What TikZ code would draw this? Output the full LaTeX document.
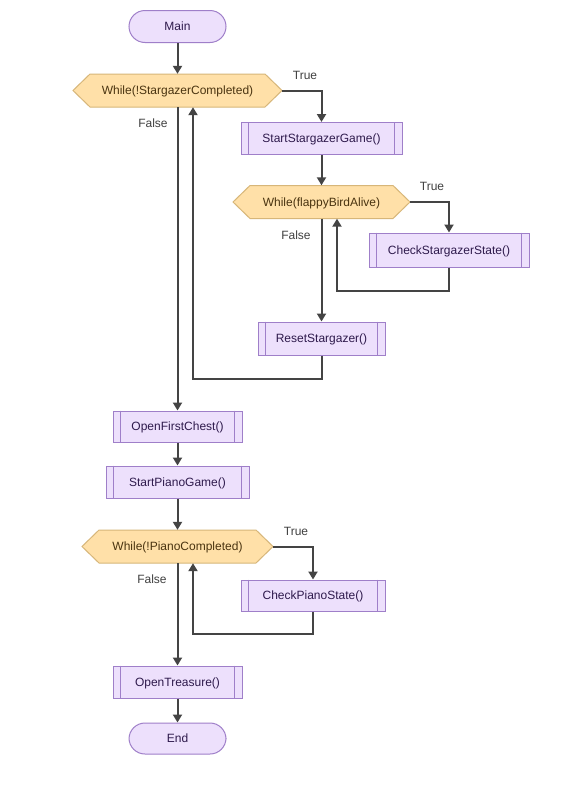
\documentclass[tikz,border=0pt]{standalone}
\usepackage{fontspec}
\setmainfont{Liberation Sans}
\usetikzlibrary{arrows.meta,calc}
\definecolor{boxfill}{HTML}{EDE0FC}
\definecolor{boxline}{HTML}{9F7FC9}
\definecolor{hexfill}{HTML}{FFE0A8}
\definecolor{hexline}{HTML}{D7B679}
\definecolor{boxtext}{HTML}{2E1A4C}
\definecolor{hextext}{HTML}{4A3410}
\definecolor{wire}{HTML}{444444}
\tikzset{
  every node/.style={font=\fontsize{12}{14}\selectfont},
  txt/.style={text height=8.6pt, text depth=0pt},
  term/.style={txt, rectangle, rounded corners=16pt, draw=boxline, fill=boxfill, line width=1pt, text=boxtext, minimum width=97pt, minimum height=32pt, inner sep=0pt},
  sub/.style={txt, rectangle, draw=boxline, fill=boxfill, line width=1pt, text=boxtext, minimum height=32pt, inner sep=0pt},
  subline/.style={draw=boxline, line width=1pt},
  hexbox/.style={txt, rectangle, draw=none, text=hextext, minimum height=33pt, inner sep=0pt},
  hexshape/.style={draw=hexline, fill=hexfill, line width=1pt},
  lbl/.style={txt, text=black!75, inner sep=0pt},
  flow/.style={draw=wire, line width=2pt, -{Triangle[width=9pt,length=8pt]}},
}
\newcommand{\hexat}[4]{% name, x, y, width
  \path[hexshape] ($(#2,#3)+(-#4/2,0)$) -- ++(17,-16.5) -- ($(#2,#3)+(#4/2-17,-16.5)$) -- ++(17,16.5) -- ++(-17,16.5) -- ($(#2,#3)+(-#4/2+17,16.5)$) -- cycle;
}
\begin{document}
\begin{tikzpicture}[x=1pt,y=-1pt]
\useasboundingbox (0,0) rectangle (566,806);
\fill[white] (0,0) rectangle (566,806);

% hexagon backgrounds
\hexat{w1}{177.5}{90.5}{209}
\hexat{w2}{321.5}{202}{177}
\hexat{w3}{177.5}{546.5}{191}

\node[term] (main) at (177.5,26.5) {Main};
\node[hexbox, minimum width=209pt] (w1) at (177.5,90.5) {While(!StargazerCompleted)};
\node[sub, minimum width=161pt] (ssg) at (321.5,138.5) {StartStargazerGame()};
\node[hexbox, minimum width=177pt] (w2) at (321.5,202) {While(flappyBirdAlive)};
\node[sub, minimum width=160pt, minimum height=34pt] (csg) at (449,250) {CheckStargazerState()};
\node[sub, minimum width=127pt, minimum height=33pt] (rs) at (321.5,338.5) {ResetStargazer()};
\node[sub, minimum width=129pt, minimum height=31pt] (ofc) at (177.5,426.5) {OpenFirstChest()};
\node[sub, minimum width=143pt] (spg) at (177.5,482) {StartPianoGame()};
\node[hexbox, minimum width=191pt] (w3) at (177.5,546.5) {While(!PianoCompleted)};
\node[sub, minimum width=144pt, minimum height=31pt] (cps) at (313,595.5) {CheckPianoState()};
\node[sub, minimum width=129pt] (ot) at (177.5,682) {OpenTreasure()};
\node[term, minimum height=31pt] (end) at (177.5,738.5) {End};

% inner side lines of subroutine boxes
\foreach \n in {ssg,csg,rs,ofc,spg,cps,ot} {
  \draw[subline] ([xshift=8pt]\n.north west) -- ([xshift=8pt]\n.south west);
  \draw[subline] ([xshift=-8pt]\n.north east) -- ([xshift=-8pt]\n.south east);
}

% labels
\node[lbl] (t1) at (305,75) {True};
\node[lbl] (f1) at (153,123) {False};
\node[lbl] (t2) at (432,186) {True};
\node[lbl] (f2) at (296,235) {False};
\node[lbl] (t3) at (296,531) {True};
\node[lbl] (f3) at (152,579) {False};

% connectors
\draw[flow] (main) -- (w1);
\draw[flow] (w1.east) -| (ssg.north);
\draw[flow] (w1.south) -- (ofc.north);
\draw[flow] (ssg) -- (w2);
\draw[flow] (w2.east) -| (csg.north);
\draw[flow] (csg.south) -- ++(0,23) -| ([xshift=15.5pt]w2.south);
\draw[flow] (w2.south) -- (rs.north);
\draw[flow] (rs.south) -- ++(0,23) -| ([xshift=15.5pt]w1.south);
\draw[flow] (ofc) -- (spg);
\draw[flow] (spg) -- (w3);
\draw[flow] (w3.east) -| (cps.north);
\draw[flow] (cps.south) -- ++(0,22) -| ([xshift=15.5pt]w3.south);
\draw[flow] (w3.south) -- (ot.north);
\draw[flow] (ot) -- (end);
\end{tikzpicture}
\end{document}
